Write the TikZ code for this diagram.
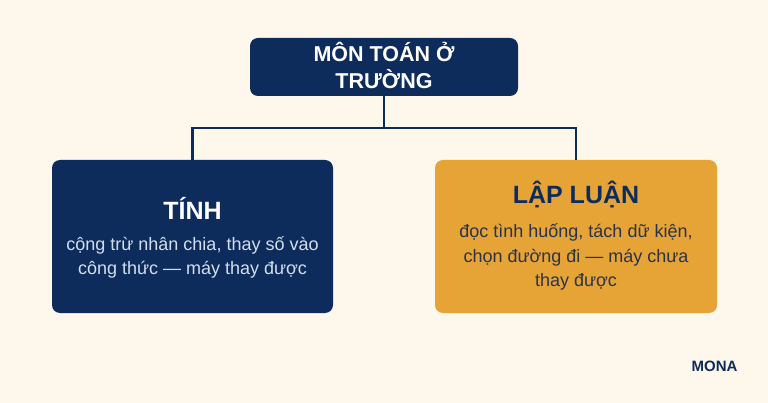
\documentclass[tikz,border=0pt]{standalone}
\usepackage{fontspec}
\setmainfont{Liberation Sans}
\definecolor{bg}{HTML}{FDF7EC}
\definecolor{navy}{HTML}{0D2C5C}
\definecolor{gold}{HTML}{E6A437}
\definecolor{lightbody}{HTML}{D3DEEE}
\definecolor{darkbody}{HTML}{2A3348}
\begin{document}
\begin{tikzpicture}[x=1pt,y=-1pt,
  box/.style={rectangle,rounded corners=8pt,inner sep=0pt,draw=none},
  titlefont/.style={font=\fontsize{25}{30}\selectfont\bfseries},
  bodyfont/.style={font=\fontsize{18}{24.5}\selectfont,align=center},
  link/.style={draw=navy,line width=2.4pt}]
\fill[bg] (0,0) rectangle (768,403);
\useasboundingbox (0,0) rectangle (768,403);
\node[box,fill=navy,minimum width=268pt,minimum height=58pt] (top) at (384,67) {};
\node[text=white,font=\fontsize{21.5}{27}\selectfont\bfseries,align=center] (toptext) at (384,65.5) {MÔN TOÁN Ở\\TRƯỜNG};
\node[box,fill=navy,minimum width=281pt,minimum height=153pt] (left) at (192.5,236.5) {};
\node[box,fill=gold,minimum width=282pt,minimum height=153pt] (right) at (576,236.5) {};
\node[titlefont,text=white] (lt) at (192.5,208) {TÍNH};
\node[bodyfont,text=lightbody] (lb) at (192.5,257.5) {cộng trừ nhân chia, thay số vào\\công thức — máy thay được};
\node[titlefont,text=navy] (rt) at (576,195) {LẬP LUẬN};
\node[bodyfont,text=darkbody] (rb) at (576,257) {đọc tình huống, tách dữ kiện,\\chọn đường đi — máy chưa\\thay được};
\coordinate (j) at (384,128);
\draw[link] (top.south) -- (j);
\draw[link] (left.north) |- (j) -| (right.north);
\node[text=navy,font=\fontsize{15}{17}\selectfont\bfseries] (mona) at (714.5,366) {MONA};
\end{tikzpicture}
\end{document}
